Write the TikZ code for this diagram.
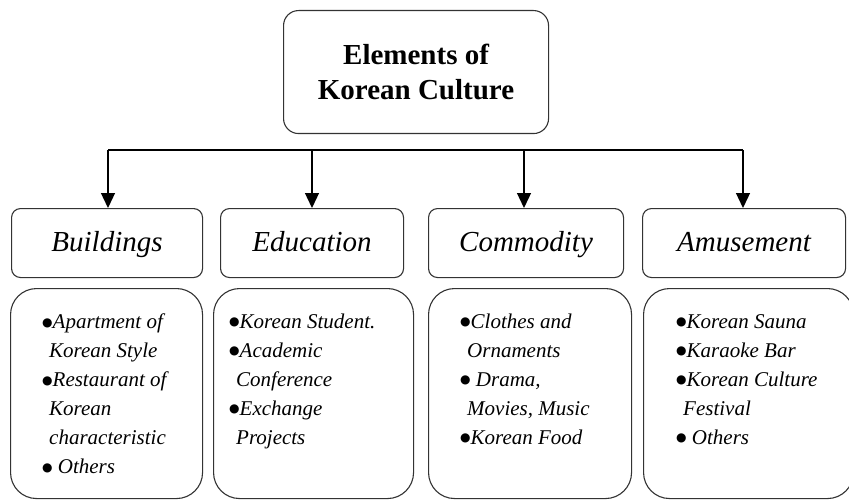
\documentclass[tikz,border=0pt]{standalone}
\usepackage{fontspec}
\setmainfont{Liberation Serif}
\newfontfamily\symfont{DejaVu Sans}
\usetikzlibrary{arrows.meta}
\tikzset{
  box/.style={draw=black!80, line width=1.1pt, anchor=north west, inner sep=0pt},
  topbox/.style={box, rounded corners=15pt, minimum width=265pt, minimum height=123pt,
    align=center, font={\fontsize{29}{35}\selectfont\bfseries}},
  catbox/.style={box, rounded corners=9pt, minimum height=69pt, text height=21pt, text depth=5pt,
    font={\fontsize{29}{35}\selectfont\itshape}},
  detbox/.style={box, rounded corners=26pt, minimum height=210pt},
  dettext/.style={anchor=north west, inner sep=0pt, align=left,
    font={\fontsize{21}{29}\selectfont\itshape}},
  bus/.style={line width=1.3pt, black},
  arr/.style={line width=1.3pt, black, -{Triangle[width=14pt,length=15pt]}}
}
\newcommand{\bl}{\raisebox{2.8pt}{\symfont\fontsize{12}{12}\selectfont ●}}
\newcommand{\cn}{\hspace*{7pt}}
\begin{document}
\begin{tikzpicture}[x=1pt,y=-1pt]
\useasboundingbox (0,0) rectangle (849,500);
\node[topbox] (top) at (283,10) {Elements of\\Korean Culture};

\node[catbox, minimum width=191pt] (c1) at (11,208) {Buildings};
\node[catbox, minimum width=183pt] (c2) at (220,208) {Education};
\node[catbox, minimum width=195pt] (c3) at (428,208) {Commodity};
\node[catbox, minimum width=203pt] (c4) at (642,208) {Amusement};

\node[detbox, minimum width=192pt] (d1) at (10,288) {};
\node[detbox, minimum width=200pt] (d2) at (213,288) {};
\node[detbox, minimum width=203pt] (d3) at (428,288) {};
\node[detbox, minimum width=210pt] (d4) at (643,288) {};

\node[dettext] (t1) at (42,314) {\bl Apartment of\\ \cn Korean Style\\ \bl Restaurant of\\ \cn Korean\\ \cn characteristic\\ \bl\ Others};
\node[dettext] (t2) at (229,314) {\bl Korean Student.\\ \bl Academic\\ \cn Conference\\ \bl Exchange\\ \cn Projects};
\node[dettext] (t3) at (460,314) {\bl Clothes and\\ \cn Ornaments\\ \bl\ Drama,\\ \cn Movies, Music\\ \bl Korean Food};
\node[dettext] (t4) at (676,314) {\bl Korean Sauna\\ \bl Karaoke Bar\\ \bl Korean Culture\\ \cn Festival\\ \bl\ Others};

\coordinate (bL) at (108,150);
\coordinate (bR) at (743,150);
\coordinate (b2) at (312,150);
\coordinate (b3) at (524,150);
\draw[bus] (bL) -- (bR);
\draw[arr] (bL) -- (bL |- c1.north);
\draw[arr] (b2) -- (b2 |- c2.north);
\draw[arr] (b3) -- (b3 |- c3.north);
\draw[arr] (bR) -- (bR |- c4.north);
\end{tikzpicture}
\end{document}
